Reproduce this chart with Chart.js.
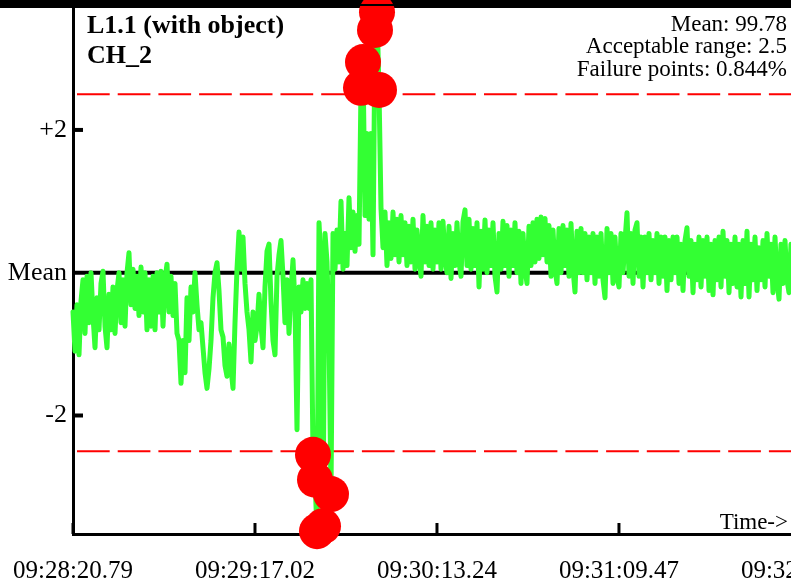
<!DOCTYPE html>
<html><head><meta charset="utf-8">
<script src="https://cdn.jsdelivr.net/npm/chart.js@4/dist/chart.umd.min.js"></script>
<style>
html,body{margin:0;padding:0;overflow:hidden;background:#fff;width:791px;height:586px}
#wrap{position:absolute;left:0;top:0;width:900px;height:586px}
</style>
</head><body><div id="wrap"><canvas id="c" width="900" height="586"></canvas></div>
<script>
const CHART_TITLE = ["L1.1 (with object)", "CH_2"];
const STATS_TEXT = ["Mean: 99.78", "Acceptable range: 2.5", "Failure points: 0.844%"];
const AXIS_NOTE = "Time->";
const SAMPLE_PERIOD = 0.6179;          // seconds between plotted samples
const LIMIT = 2.5;                     // acceptable range (deviation from mean)
const X_MAX = 255.5;
const timeTickValues = [0, 56.225, 112.45, 168.675, 224.9];
const timeTickLabels = ["09:28:20.79", "09:29:17.02", "09:30:13.24", "09:31:09.47", "09:32:05.69"];
const devTickValues = [-2, 0, 2];
const devTickLabels = ["-2", "Mean", "+2"];

// deviation from mean
const devA = [-0.55,-1.10,-0.45,-1.15,-0.40,-0.10,-0.85,-0.05,-0.70,0.00,-0.60,-1.05,-0.35,-0.80,-0.15,0.02,
  -0.75,-1.05,-0.30,-0.80,-0.20,-0.85,-0.25,0.00,-0.70,-0.10,-0.75,0.00,0.28,-0.45,0.05,-0.50,
  -0.05,-0.60,0.08,-0.55,0.00,-0.80,-0.10,-0.75,-0.05,-0.80,0.00,-0.55,0.02,-0.75,-0.10,0.12,
  -0.55,-0.05,-0.60,-0.15,-0.85,-0.95,-1.55,-0.95,-1.40,-0.35,-0.95,-0.20,-0.55,0.00,-0.45,-0.80];
const devB = [-0.70,-1.05,-1.40,-1.62,-1.35,-0.95,-0.35,0.00,0.14,-0.25,-0.80,-0.90,-1.30,-1.45,-1.00,-1.35,
  -1.62,-0.70,0.05,0.57,0.05,0.50,-0.15,-0.55,-0.80,-1.25,-0.55,-0.95,-0.75,-0.30,-0.75,-1.05,
  -0.20,0.30,0.40,-0.40,-0.95,-1.15,-0.05,0.25,0.45,-0.05,-0.70,-0.10,-0.85,-0.25,0.18,-0.45,
  -2.20,-0.20,-0.55,-0.10,-0.50,-0.15,-0.50,-0.10,-2.55,-2.90,-3.62,0.70,0.15,-3.55,0.55,0.15];
const devC = [-0.90,-3.10,0.55,0.05,0.60,0.15,1.00,0.05,0.55,0.10,1.05,0.35,0.85,0.30,0.80,0.40,
  2.59,2.95,0.80,1.95,0.75,1.95,0.25,3.40,3.65,2.56,0.90,0.35,0.85,0.10,0.70,0.20,
  0.85,0.25,0.75,0.15,0.80,0.25,0.70,0.10,0.65,0.15,0.75,0.05,0.60,0.20,-0.05,0.80,
  0.15,0.65,0.10,0.70,0.05,0.60,0.15,0.70,0.05,0.72,0.20,0.00,0.65,-0.08,0.55,0.10];
const devD = [0.70,0.15,-0.05,0.72,0.88,0.10,0.75,0.05,0.62,0.10,0.70,-0.20,0.58,0.05,0.74,0.00,
  0.60,0.10,0.70,-0.05,-0.27,0.55,0.05,0.72,0.10,0.66,-0.05,0.60,0.10,0.70,0.00,0.58,
  -0.15,0.55,0.05,-0.15,0.65,0.10,0.70,0.15,0.75,0.20,0.78,0.25,0.76,0.15,0.66,-0.05,
  0.60,0.05,-0.15,0.62,0.00,0.66,0.10,0.60,-0.05,0.69,0.05,-0.27,0.58,0.00,0.62,0.00];
const devE = [0.55,-0.10,0.50,0.00,0.55,-0.15,0.50,-0.05,0.55,-0.10,-0.35,0.62,0.00,0.55,-0.15,0.50,
  -0.05,-0.20,0.55,0.00,0.45,0.84,-0.05,0.55,-0.15,0.60,0.70,-0.05,0.50,-0.20,0.50,0.00,
  0.55,-0.10,0.45,0.00,0.55,-0.15,0.50,-0.05,0.50,-0.25,0.45,-0.10,0.50,0.00,0.50,-0.15,
  0.40,-0.25,0.45,0.63,-0.05,0.45,-0.28,0.40,-0.10,0.50,-0.20,0.45,-0.05,0.50,-0.25,0.40];
const devF = [-0.31,0.45,-0.10,0.50,-0.20,0.58,-0.05,0.45,-0.28,0.40,-0.15,0.50,-0.20,0.40,-0.34,0.45,
  -0.15,0.58,-0.34,0.40,-0.10,0.50,-0.25,0.35,-0.10,0.45,-0.20,0.55,-0.05,0.40,-0.28,0.50,
  -0.10,-0.37,0.40,-0.15,0.45,-0.10,-0.28,0.40,-0.05,0.35];

const deviation = [].concat(devA, devB, devC, devD, devE, devF);
const signal = deviation.map((v, i) => ({x: i * SAMPLE_PERIOD, y: v}));
const hline = v => [{x: 0, y: v}, {x: X_MAX, y: v}];

const SERIF = '"Liberation Serif", "Times New Roman", serif';

const decor = {
  id: 'decor',
  beforeDatasetsDraw(chart) {
    const ctx = chart.ctx;
    ctx.save();
    ctx.fillStyle = '#000';
    ctx.fillRect(0, 0, chart.width, 8);
    ctx.restore();
  },
  afterDatasetsDraw(chart) {
    const ctx = chart.ctx, a = chart.chartArea;
    const xs = chart.scales.x, ys = chart.scales.y;
    ctx.save();
    ctx.fillStyle = '#000';
    ctx.fillRect(0, 4, chart.width, 2);
    ctx.strokeStyle = '#000';
    ctx.lineWidth = 4;
    [-2, 2].forEach(v => {
      const y = ys.getPixelForValue(v);
      ctx.beginPath(); ctx.moveTo(a.left, y); ctx.lineTo(a.left + 10, y); ctx.stroke();
    });
    ctx.lineWidth = 3;
    timeTickValues.forEach(v => {
      const x = xs.getPixelForValue(v);
      ctx.beginPath(); ctx.moveTo(x, a.bottom - 11); ctx.lineTo(x, a.bottom); ctx.stroke();
    });
    ctx.restore();
  },
  afterDraw(chart) {
    const ctx = chart.ctx;
    ctx.save();
    ctx.fillStyle = '#000';
    ctx.textBaseline = 'alphabetic';
    ctx.textAlign = 'left';
    ctx.font = 'bold 26px ' + SERIF;
    ctx.fillText(CHART_TITLE[0], 87, 33);
    ctx.fillText(CHART_TITLE[1], 87, 63);
    ctx.textAlign = 'right';
    ctx.font = '23px ' + SERIF;
    ctx.fillText(STATS_TEXT[0], 787, 31);
    ctx.fillText(STATS_TEXT[1], 787, 53);
    ctx.fillText(STATS_TEXT[2], 787, 76);
    ctx.fillText(AXIS_NOTE, 788, 529);
    ctx.restore();
  }
};

new Chart(document.getElementById('c'), {
  type: 'line',
  data: {
    datasets: [
      {
        data: signal,
        borderColor: '#33ff33',
        borderWidth: 5,
        borderJoinStyle: 'round',
        borderCapStyle: 'round',
        tension: 0,
        clip: false,
        pointRadius: c => (c.raw && Math.abs(c.raw.y) > LIMIT) ? 18 : 0,
        pointBackgroundColor: '#ff0000',
        pointBorderWidth: 0,
        pointHoverRadius: 0
      },
      { data: hline(0), borderColor: '#000', borderWidth: 4, pointRadius: 0 },
      { data: hline(LIMIT), borderColor: '#ff0000', borderWidth: 2, pointRadius: 0, borderDash: [32.7, 8], borderDashOffset: 36.7 },
      { data: hline(-LIMIT), borderColor: '#ff0000', borderWidth: 2, pointRadius: 0, borderDash: [32.7, 8], borderDashOffset: 36.7 }
    ]
  },
  options: {
    responsive: false,
    animation: false,
    events: [],
    layout: { padding: { top: 5, right: 0, bottom: 0, left: 0 } },
    plugins: { legend: { display: false }, tooltip: { enabled: false }, title: { display: false } },
    scales: {
      x: {
        type: 'linear', min: 0, max: X_MAX,
        grid: { display: false, drawTicks: false },
        border: { display: true, color: '#000', width: 3 },
        afterBuildTicks: s => { s.ticks = timeTickValues.map(v => ({value: v})); },
        afterFit: s => { s.height = 52; s.paddingLeft = 0; s.paddingRight = 0; },
        ticks: {
          autoSkip: false, maxRotation: 0, padding: 22, color: '#000',
          font: { family: SERIF, size: 25 },
          callback: (v, i) => timeTickLabels[i]
        }
      },
      y: {
        type: 'linear', min: -3.66, max: 3.75,
        grid: { display: false, drawTicks: false },
        border: { display: true, color: '#000', width: 3 },
        afterBuildTicks: s => { s.ticks = devTickValues.map(v => ({value: v})); },
        afterFit: s => { s.width = 73; s.paddingTop = 0; s.paddingBottom = 0; },
        ticks: {
          padding: 6, color: '#000',
          font: { family: SERIF, size: 26 },
          callback: (v, i) => devTickLabels[i]
        }
      }
    }
  },
  plugins: [decor]
});
</script>
</body></html>
